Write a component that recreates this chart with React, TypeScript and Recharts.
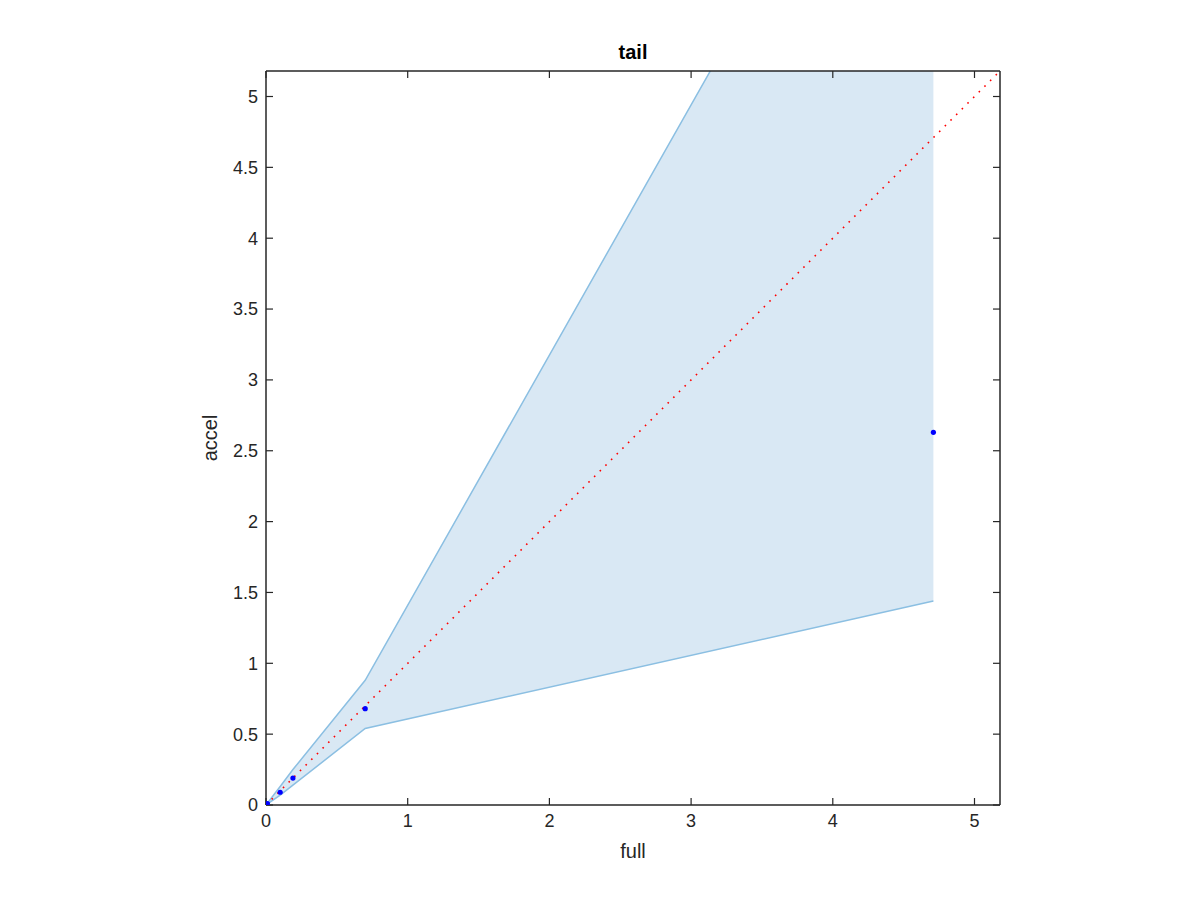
import React from 'react';
import { ComposedChart, XAxis, YAxis, Area, Line, Scatter } from 'recharts';

// measured points (full vs accel)
const fullVals = [0, 0.01, 0.1, 0.19, 0.7, 4.71];
const accelVals = [0, 0.01, 0.09, 0.19, 0.68, 2.63];

// confidence band
const bandX = [0, 0.1, 0.19, 0.7, 4.71];
const bandLow = [0, 0.07, 0.14, 0.54, 1.44];
const bandHigh = [0, 0.13, 0.25, 0.88, 7.96];

// y = x reference
const diagX = [0, 5.18];

const xTicks = [0, 1, 2, 3, 4, 5];
const yTicks = [0, 0.5, 1, 1.5, 2, 2.5, 3, 3.5, 4, 4.5, 5];
const domain: [number, number] = [0, 5.18];

const points = fullVals.map((x, i) => ({ x, y: accelVals[i] }));
const band = bandX.map((x, i) => ({ x, band: [bandLow[i], bandHigh[i]] }));
const diag = diagX.map((x) => ({ x, d: x }));

const axisColor = '#262626';
const font = '"Liberation Sans", Arial, Helvetica, sans-serif';
const axisLine = { stroke: axisColor, strokeWidth: 1.5 };
const tickLine = { stroke: axisColor, strokeWidth: 1.2 };

const Dot = (props: any) => <circle cx={props.cx} cy={props.cy} r={2.6} fill="#0000ff" />;

export default function App() {
  return (
    <div style={{ position: 'absolute', left: 0, top: 0, width: 1200, height: 900, background: '#fff', fontFamily: font }}>
      <ComposedChart width={1200} height={900} margin={{ top: 70, right: 199, bottom: 35, left: 0 }}>
        <XAxis
          dataKey="x"
          type="number"
          domain={domain}
          ticks={xTicks}
          allowDataOverflow
          height={60}
          tickSize={-7}
          tickMargin={16}
          axisLine={axisLine}
          tickLine={tickLine}
          tick={{ fill: axisColor, fontSize: 18, fontFamily: font }}
          label={{ value: 'full', position: 'center', dy: 16, fill: axisColor, fontSize: 20, fontFamily: font }}
        />
        <XAxis
          xAxisId="top"
          orientation="top"
          dataKey="x"
          type="number"
          domain={domain}
          ticks={xTicks}
          allowDataOverflow
          height={1}
          tickSize={-7}
          tickFormatter={() => ''}
          axisLine={axisLine}
          tickLine={tickLine}
          label={{ value: 'tail', position: 'center', dy: -19, fill: '#000', fontSize: 20, fontWeight: 'bold', fontFamily: font }}
        />
        <YAxis
          type="number"
          domain={domain}
          ticks={yTicks}
          allowDataOverflow
          width={266}
          tickSize={-7}
          tickMargin={15}
          axisLine={axisLine}
          tickLine={tickLine}
          tick={{ fill: axisColor, fontSize: 18, fontFamily: font }}
          label={{ value: 'accel', angle: -90, position: 'center', dx: 77, fill: axisColor, fontSize: 20, fontFamily: font }}
        />
        <YAxis
          yAxisId="right"
          orientation="right"
          type="number"
          domain={domain}
          ticks={yTicks}
          allowDataOverflow
          width={1}
          tickSize={-7}
          tickFormatter={() => ''}
          axisLine={axisLine}
          tickLine={tickLine}
        />
        <Area
          data={band}
          dataKey="band"
          type="linear"
          fill="#d9e8f4"
          fillOpacity={1}
          stroke="#8bbfe2"
          strokeWidth={1.5}
          isAnimationActive={false}
          activeDot={false}
          dot={false}
        />
        <Line
          data={diag}
          dataKey="d"
          type="linear"
          stroke="#ff0000"
          strokeWidth={1.6}
          strokeDasharray="1.6 6.4"
          dot={false}
          activeDot={false}
          isAnimationActive={false}
        />
        <Scatter data={points} dataKey="y" shape={Dot} isAnimationActive={false} />
      </ComposedChart>
    </div>
  );
}
